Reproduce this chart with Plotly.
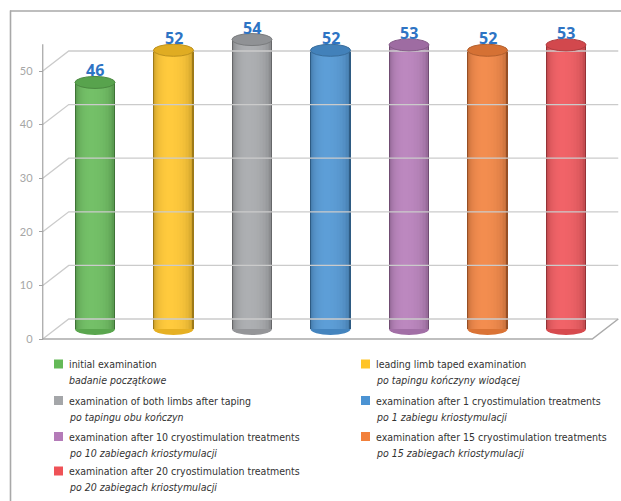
import plotly.graph_objects as go

# ---------------- data ----------------
labels_en = [
    "initial examination",
    "leading limb taped examination",
    "examination of both limbs after taping",
    "examination after 1 cryostimulation treatments",
    "examination after 10 cryostimulation treatments",
    "examination after 15 cryostimulation treatments",
    "examination after 20 cryostimulation treatments",
]
labels_pl = [
    "badanie początkowe",
    "po tapingu kończyny wiodącej",
    "po tapingu obu kończyn",
    "po 1 zabiegu kriostymulacji",
    "po 10 zabiegach kriostymulacji",
    "po 15 zabiegach kriostymulacji",
    "po 20 zabiegach kriostymulacji",
]
values = [46, 52, 54, 52, 53, 52, 53]
colors = ["#64B957", "#FFC427", "#A4A6A9", "#4B93D3", "#B47BB8", "#F2803B", "#EF5257"]
tick_values = [0, 10, 20, 30, 40, 50]
axis_max = 55

# ---------------- geometry (pixels) ----------------
W, H = 621, 501
X0_PX, STEP_PX = 95.0, 78.5      # centre of first cylinder, spacing
Y0_PX, UNIT_PX = 329.0, 5.36     # value 0 at mid depth, px per unit
DDX_PX, DDY_PX = 13.0, 10.0      # half-depth offset of the 3-D box
BAR_W = 0.51
ELL_PX = 6.0

n = len(values)
x_lo, x_hi = -X0_PX / STEP_PX, (W - X0_PX) / STEP_PX
y_hi, y_lo = Y0_PX / UNIT_PX, (Y0_PX - H) / UNIT_PX
ddx, ddy = DDX_PX / STEP_PX, DDY_PX / UNIT_PX
eh = ELL_PX / UNIT_PX
xs = list(range(n))


def hex2rgb(h):
    h = h.lstrip("#")
    return [int(h[i:i + 2], 16) for i in (0, 2, 4)]


def rgb2hex(c):
    return "#%02X%02X%02X" % tuple(max(0, min(255, int(round(v)))) for v in c)


def shade(h, f):
    return rgb2hex([v * f for v in hex2rgb(h)])


def mix(a, b, t):
    ca, cb = hex2rgb(a), hex2rgb(b)
    return rgb2hex([ca[i] + (cb[i] - ca[i]) * t for i in range(3)])


fig = go.Figure()

# ---------------- 3-D box: floor, gridlines on back wall ----------------
grid_x, grid_y = [], []
for t in tick_values:
    grid_x += [-0.5 - ddx, -0.5 + ddx, n - 0.5 + ddx, None]
    grid_y += [t - ddy, t + ddy, t + ddy, None]
fig.add_trace(go.Scatter(x=grid_x, y=grid_y, mode="lines",
                         line=dict(color="#CBCBCB", width=1.3),
                         hoverinfo="skip", showlegend=False))
fig.add_trace(go.Scatter(x=[-0.5 - ddx, n - 0.5 - ddx, n - 0.5 + ddx],
                         y=[-ddy, -ddy, ddy], mode="lines",
                         line=dict(color="#ABABAB", width=1.5),
                         hoverinfo="skip", showlegend=False))

# ---------------- cylinder bodies (nested bands for shading) ----------------
N_BANDS = 16
peak = 0.40
for k in range(N_BANDS):
    s = 1.0 - k / N_BANDS
    g = (1 - s * s) ** 0.5
    cols = []
    for c in colors:
        dark = shade(c, 0.62)
        light = mix(c, "#FFFFFF", 0.10)
        cols.append(mix(dark, light, g ** 0.6))
    c_peak = -BAR_W / 2 + peak * BAR_W
    fig.add_trace(go.Bar(
        x=xs, y=values, base=0,
        offset=c_peak - s * peak * BAR_W, width=s * BAR_W,
        marker=dict(color=cols, line=dict(width=0)),
        hoverinfo="skip", showlegend=False,
    ))

# ---------------- front axis line + tick labels (front plane) ----------------
front_x = -0.5 - ddx
fig.add_trace(go.Scatter(x=[front_x, front_x], y=[0, axis_max], mode="lines",
                         yaxis="y2", line=dict(color="#A3A3A3", width=1.2),
                         hoverinfo="skip", showlegend=False))

shapes = []
annotations = []
for i, (v, c) in enumerate(zip(values, colors)):
    # bottom cap
    shapes.append(dict(type="circle", xref="x", yref="y", layer="below",
                       x0=i - BAR_W / 2, x1=i + BAR_W / 2, y0=-eh, y1=eh,
                       fillcolor=shade(c, 0.9), line=dict(width=0)))
    # top cap
    shapes.append(dict(type="circle", xref="x", yref="y", layer="above",
                       x0=i - BAR_W / 2, x1=i + BAR_W / 2, y0=v - eh, y1=v + eh,
                       fillcolor=shade(c, 0.88), line=dict(color=shade(c, 0.74), width=1)))
    annotations.append(dict(x=i, y=v, xref="x", yref="y", text="<b>%d</b>" % v,
                            showarrow=False, yshift=12, yanchor="middle",
                            font=dict(family="'Open Sans', Roboto, sans-serif",
                                      size=16, color="#2E74C4")))

# frame lines
frame_col = "#A8A8A8"
shapes.append(dict(type="line", xref="paper", yref="paper",
                   x0=10.5 / W, x1=10.5 / W, y0=0, y1=1 - 10.5 / H,
                   line=dict(color=frame_col, width=1.6)))
shapes.append(dict(type="line", xref="paper", yref="paper",
                   x0=10 / W, x1=1, y0=1 - 11 / H, y1=1 - 11 / H,
                   line=dict(color=frame_col, width=1.6)))

# ---------------- legend (two columns) ----------------
legend_font = "'DejaVu Sans Condensed', 'Liberation Sans Narrow', sans-serif"
row_px = [364, 400.5, 436.5, 471]
col_sq_px = [54, 361]
col_tx_px = [67, 374]
for i in range(n):
    col, row = i % 2, i // 2
    yc = row_px[row]
    sx = col_sq_px[col]
    shapes.append(dict(type="rect", xref="paper", yref="paper",
                       x0=sx / W, x1=(sx + 9) / W,
                       y0=1 - (yc + 4.5) / H, y1=1 - (yc - 4.5) / H,
                       fillcolor=colors[i], line=dict(width=0)))
    annotations.append(dict(x=col_tx_px[col] / W, y=1 - yc / H, xref="paper", yref="paper",
                            text=labels_en[i], showarrow=False, xanchor="left", yanchor="middle",
                            font=dict(family=legend_font, size=10.5, color="#333333")))
    annotations.append(dict(x=col_tx_px[col] / W, y=1 - (yc + 16) / H, xref="paper", yref="paper",
                            text="<i>" + labels_pl[i] + "</i>", showarrow=False,
                            xanchor="left", yanchor="middle",
                            font=dict(family=legend_font, size=10.5, color="#333333")))

fig.update_layout(
    width=W, height=H, autosize=False,
    margin=dict(l=0, r=0, t=0, b=0, pad=0),
    paper_bgcolor="white", plot_bgcolor="white",
    barmode="overlay", bargap=0,
    xaxis=dict(range=[x_lo, x_hi], visible=False, fixedrange=True),
    yaxis=dict(range=[y_lo, y_hi], visible=False, fixedrange=True),
    yaxis2=dict(range=[y_lo + ddy, y_hi + ddy], overlaying="y", anchor="free",
                position=(X0_PX - 0.5 * STEP_PX - DDX_PX) / W, side="left",
                tickvals=tick_values, ticks="outside", ticklen=4, tickcolor="#A3A3A3",
                tickwidth=1, showgrid=False, zeroline=False, showline=False,
                ticklabelstandoff=4,
                tickfont=dict(family="Lato, 'Open Sans', sans-serif", size=11, color="#A6A6A6"),
                fixedrange=True),
    shapes=shapes, annotations=annotations,
    showlegend=False,
)

fig.write_html("out.html")
